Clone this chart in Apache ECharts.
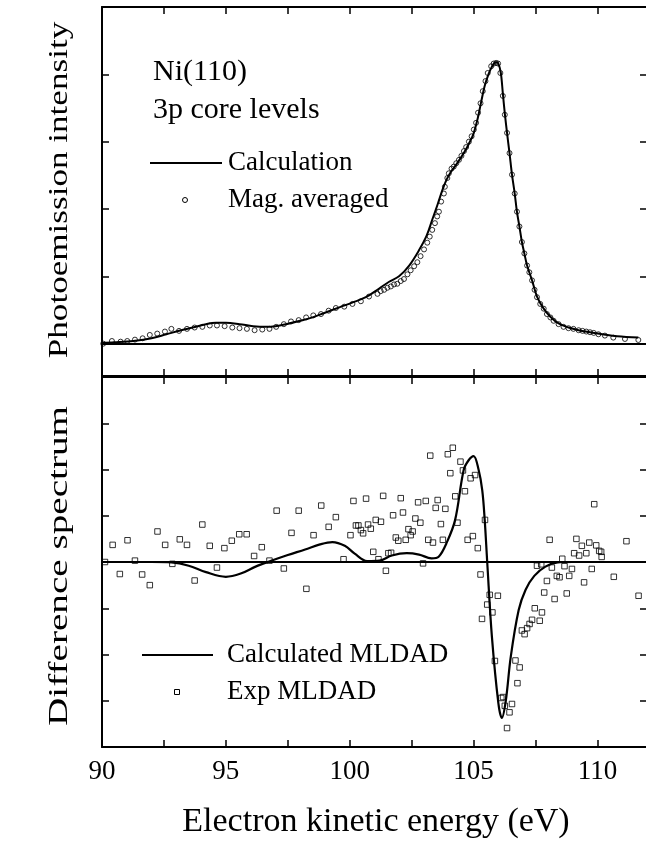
<!DOCTYPE html>
<html>
<head>
<meta charset="utf-8">
<title>Ni(110) 3p core levels</title>
<script src="https://cdn.jsdelivr.net/npm/echarts@6/dist/echarts.min.js"></script>
<style>
  html, body { margin: 0; padding: 0; background: #fff; }
  #chart { width: 646px; height: 844px; }
</style>
</head>
<body>
<div id="chart"></div>
<script>
// top panel: calculation (line)
var calcE = [90.0, 90.5, 91.26, 92.0, 92.6, 93.2, 93.66, 94.2, 94.6, 95.0, 95.55, 96.1, 96.63, 97.0, 97.43, 98.0,
  98.5, 99.0, 99.58, 100.1, 100.65, 101.19, 101.59, 101.99, 102.4, 102.8, 103.1, 103.33, 103.55, 103.74, 103.9,
  104.1, 104.3, 104.5, 104.7, 104.85, 105.0, 105.17, 105.3, 105.45, 105.6, 105.75, 105.9, 106.0, 106.1, 106.18,
  106.26, 106.35, 106.45, 106.55, 106.66, 106.75, 106.85, 106.95, 107.05, 107.16, 107.36, 107.56, 107.83, 108.1,
  108.43, 108.83, 109.24, 109.7, 110.2, 110.8, 111.65];
var calcI = [0.01, 0.02, 0.04, 0.08, 0.14, 0.2, 0.24, 0.29, 0.31, 0.31, 0.29, 0.26, 0.25, 0.26, 0.29, 0.34,
  0.39, 0.46, 0.54, 0.61, 0.69, 0.82, 0.92, 1.0, 1.16, 1.39, 1.6, 1.84, 2.07, 2.28, 2.43,
  2.56, 2.66, 2.77, 2.89, 3.0, 3.12, 3.35, 3.58, 3.83, 4.0, 4.12, 4.18, 4.16, 4.02, 3.72,
  3.42, 3.13, 2.83, 2.51, 2.23, 1.96, 1.74, 1.51, 1.34, 1.16, 0.94, 0.7, 0.52, 0.4,
  0.3, 0.24, 0.2, 0.17, 0.14, 0.11, 0.09];

// top panel: magnetisation averaged (circles)
var magE = [90.05, 90.4, 90.75, 91.02, 91.33, 91.64, 91.93, 92.23, 92.54, 92.8, 93.11, 93.43, 93.74, 94.05, 94.35,
  94.64, 94.95, 95.26, 95.55, 95.85, 96.16, 96.47, 96.76, 97.03, 97.34, 97.63, 97.94, 98.24, 98.53, 98.84, 99.15,
  99.44, 99.78, 100.11, 100.45, 100.78, 101.12, 101.25, 101.39, 101.52, 101.66, 101.79, 101.92, 102.06, 102.19,
  102.33, 102.46, 102.6, 102.73, 102.86, 103.0, 103.13, 103.23, 103.33, 103.44, 103.53, 103.6, 103.69, 103.8,
  103.84, 103.94, 104.0, 104.11, 104.2, 104.3, 104.41, 104.51, 104.61, 104.7, 104.81, 104.92, 105.01, 105.1,
  105.18, 105.28, 105.37, 105.48, 105.57, 105.71, 105.81, 105.91, 105.99, 106.08, 106.18, 106.26, 106.35, 106.45,
  106.55, 106.66, 106.75, 106.85, 106.95, 107.05, 107.16, 107.25, 107.36, 107.46, 107.56, 107.69, 107.83, 107.96,
  108.1, 108.23, 108.43, 108.63, 108.83, 109.03, 109.24, 109.4, 109.55, 109.7, 109.85, 110.04, 110.3, 110.64,
  111.11, 111.65];
var magI = [0.0, 0.04, 0.03, 0.04, 0.06, 0.08, 0.13, 0.15, 0.18, 0.22, 0.19, 0.22, 0.24, 0.25, 0.27,
  0.27, 0.26, 0.24, 0.23, 0.22, 0.2, 0.21, 0.22, 0.25, 0.29, 0.33, 0.35, 0.39, 0.42, 0.44, 0.49,
  0.53, 0.55, 0.59, 0.63, 0.7, 0.74, 0.78, 0.8, 0.83, 0.85, 0.88, 0.89, 0.93, 0.96,
  1.03, 1.09, 1.15, 1.21, 1.3, 1.4, 1.5, 1.59, 1.69, 1.79, 1.89, 1.96, 2.11, 2.23,
  2.33, 2.46, 2.53, 2.6, 2.63, 2.68, 2.73, 2.79, 2.86, 2.92, 3.0, 3.08, 3.18, 3.28,
  3.43, 3.57, 3.75, 3.9, 4.02, 4.12, 4.16, 4.17, 4.16, 4.02, 3.68, 3.4, 3.13, 2.83,
  2.51, 2.23, 1.96, 1.74, 1.51, 1.34, 1.16, 1.06, 0.94, 0.8, 0.69, 0.59, 0.52, 0.44,
  0.39, 0.34, 0.29, 0.25, 0.23, 0.22, 0.2, 0.19, 0.18, 0.17, 0.16, 0.14, 0.12, 0.09,
  0.07, 0.055];

// bottom panel: calculated MLDAD (line)
var mldE = [90.0, 91.0, 92.0, 92.8, 93.5, 94.2, 95.0, 95.6, 96.2, 96.8, 97.5, 98.2, 98.8, 99.3, 99.8, 100.2,
  100.7, 101.2, 101.7, 102.3, 102.8, 103.3, 103.6, 103.9, 104.25, 104.6, 104.8, 105.0, 105.2, 105.35, 105.45,
  105.55, 105.74, 106.0, 106.14, 106.3, 106.5, 106.82, 107.1, 107.45, 107.9, 108.4, 109.0, 110.0, 111.5];
var mldV = [0, 0, 0, -0.01, -0.08, -0.22, -0.32, -0.25, -0.1, 0.02, 0.15, 0.27, 0.38, 0.43, 0.35, 0.18,
  0.02, 0.03, 0.14, 0.19, 0.16, 0.08, 0.12, 0.4, 0.9, 1.99, 2.2, 2.29, 2.0, 1.55, 0.9,
  0, -1.62, -3.05, -3.37, -3.0, -2.05, -1.04, -0.6, -0.3, -0.1, -0.01, 0, 0, 0];

// bottom panel: experimental MLDAD (squares)
var expE = [90.12, 90.43, 90.72, 91.03, 91.33, 91.62, 91.93, 92.24, 92.55, 92.84, 93.14, 93.43, 93.74, 94.05,
  94.35, 94.64, 94.94, 95.24, 95.54, 95.84, 96.14, 96.45, 96.76, 97.05, 97.34, 97.65, 97.94, 98.25, 98.54, 98.85,
  99.15, 99.44, 99.75, 100.03, 100.15, 100.25, 100.35, 100.45, 100.54, 100.66, 100.74, 100.85, 100.95, 101.05,
  101.16, 101.26, 101.35, 101.46, 101.56, 101.67, 101.75, 101.86, 101.96, 102.06, 102.15, 102.26, 102.37, 102.46,
  102.54, 102.65, 102.76, 102.85, 102.96, 103.07, 103.17, 103.25, 103.36, 103.47, 103.55, 103.68, 103.76, 103.86,
  103.96, 104.06, 104.16, 104.26, 104.35, 104.47, 104.57, 104.65, 104.76, 104.88, 104.97, 105.06, 105.17, 105.28,
  105.34, 105.46, 105.55, 105.65, 105.76, 105.86, 105.98, 106.12, 106.19, 106.26, 106.35, 106.45, 106.55, 106.69,
  106.77, 106.86, 106.95, 107.06, 107.16, 107.26, 107.36, 107.47, 107.56, 107.67, 107.73, 107.76, 107.85, 107.96,
  108.07, 108.16, 108.27, 108.36, 108.47, 108.58, 108.67, 108.76, 108.86, 108.97, 109.06, 109.15, 109.26, 109.37,
  109.46, 109.55, 109.67, 109.77, 109.87, 109.95, 110.07, 110.15, 110.17, 110.66, 111.17, 111.66];
var expV = [0.0, 0.37, -0.26, 0.47, 0.03, -0.27, -0.5, 0.66, 0.37, -0.04, 0.49, 0.37, -0.4, 0.81,
  0.35, -0.12, 0.3, 0.46, 0.6, 0.6, 0.13, 0.32, 0.03, 1.11, -0.14, 0.63, 1.11, -0.58, 0.58, 1.22,
  0.76, 0.97, 0.06, 0.58, 1.32, 0.79, 0.79, 0.69, 0.62, 1.37, 0.81, 0.72, 0.22, 0.91,
  0.06, 0.87, 1.43, -0.19, 0.19, 0.2, 1.01, 0.53, 0.46, 1.38, 1.07, 0.48, 0.71, 0.58,
  0.66, 0.94, 1.29, 0.85, -0.03, 1.32, 0.48, 2.3, 0.42, 1.17, 1.34, 0.82, 0.48, 1.15,
  2.33, 1.92, 2.47, 1.42, 0.85, 2.17, 1.98, 1.53, 0.48, 1.81, 0.56, 1.88, 0.3, -0.27,
  -1.23, 0.91, -0.92, -0.71, -1.09, -2.14, -0.73, -2.94, -2.92, -3.11, -3.59, -3.25, -3.07, -2.13,
  -2.62, -2.28, -1.48, -1.56, -1.43, -1.34, -1.25, -1.0, -0.08, -1.27, -0.05, -1.09, -0.66, -0.41,
  0.48, -0.12, -0.8, -0.3, -0.33, 0.07, -0.09, -0.68, -0.3, -0.15, 0.19, 0.5, 0.14, 0.35,
  -0.44, 0.19, 0.42, -0.15, 1.25, 0.36, 0.24, 0.22, 0.11, -0.32, 0.45, -0.73];

var xTicks = [90, 95, 100, 105, 110];
var topYTicks = [1, 2, 3, 4];

function zip(a, b) {
  var out = [];
  for (var i = 0; i < a.length; i++) out.push([a[i], b[i]]);
  return out;
}

var serif = 'Liberation Serif';
var black = '#000';

function xAxisCfg(grid, pos, labels) {
  return {
    type: 'value', gridIndex: grid, position: pos,
    min: 90, max: 112, interval: 2.5,
    axisLine: { show: true, onZero: false, lineStyle: { color: black, width: 2 } },
    axisTick: { show: true, inside: true, length: 7, lineStyle: { color: black, width: 1.5 } },
    axisLabel: {
      show: labels, margin: 11, color: black, fontFamily: serif, fontSize: 27,
      formatter: function (v) { return xTicks.indexOf(v) >= 0 ? String(v) : ''; }
    },
    splitLine: { show: false }
  };
}

function yAxisCfg(grid, pos, min, max, ticks) {
  var ax = {
    type: 'value', gridIndex: grid, position: pos, min: min, max: max,
    axisLine: { show: true, onZero: false, lineStyle: { color: black, width: 2 } },
    axisTick: { show: true, inside: true, length: 7, lineStyle: { color: black, width: 1.5 } },
    axisLabel: { show: false },
    splitLine: { show: false }
  };
  if (ticks) {
    ax.axisTick.customValues = ticks;
  } else {
    ax.interval = 1;
  }
  return ax;
}

var zeroLine = {
  silent: true, symbol: 'none', animation: false,
  label: { show: false },
  lineStyle: { color: black, width: 2, type: 'solid' },
  data: [{ yAxis: 0 }]
};

var chart = echarts.init(document.getElementById('chart'));
chart.setOption({
  animation: false,
  backgroundColor: '#fff',
  grid: [
    { left: 102, top: 7, width: 545, height: 369, outerBoundsMode: 'none', containLabel: false },
    { left: 102, top: 377, width: 545, height: 370, outerBoundsMode: 'none', containLabel: false }
  ],
  xAxis: [
    xAxisCfg(0, 'bottom', false),
    xAxisCfg(0, 'top', false),
    xAxisCfg(1, 'bottom', true),
    xAxisCfg(1, 'top', false)
  ],
  yAxis: [
    yAxisCfg(0, 'left', -0.48, 5, topYTicks),
    yAxisCfg(0, 'right', -0.48, 5, topYTicks),
    yAxisCfg(1, 'left', -4, 4),
    yAxisCfg(1, 'right', -4, 4)
  ],
  series: [
    {
      name: 'Calculation', type: 'line', xAxisIndex: 0, yAxisIndex: 0,
      data: zip(calcE, calcI), smooth: 0.35, showSymbol: false,
      lineStyle: { color: black, width: 2 }, markLine: zeroLine, z: 3
    },
    {
      name: 'Mag. averaged', type: 'scatter', xAxisIndex: 0, yAxisIndex: 0,
      data: zip(magE, magI), symbol: 'circle', symbolSize: 5,
      itemStyle: { color: 'rgba(255,255,255,0)', borderColor: black, borderWidth: 1 }, z: 4
    },
    {
      name: 'Calculated MLDAD', type: 'line', xAxisIndex: 2, yAxisIndex: 2,
      data: zip(mldE, mldV), smooth: 0.35, showSymbol: false,
      lineStyle: { color: black, width: 2.2 }, markLine: zeroLine, z: 3
    },
    {
      name: 'Exp MLDAD', type: 'scatter', xAxisIndex: 2, yAxisIndex: 2,
      data: zip(expE, expV), symbol: 'rect', symbolSize: 5.5,
      itemStyle: { color: 'rgba(255,255,255,0)', borderColor: black, borderWidth: 1 }, z: 4
    }
  ],
  graphic: [
    { type: 'text', x: 153, y: 72, style: { text: 'Ni(110)', font: '30px "Liberation Serif"', fill: black, textVerticalAlign: 'middle' } },
    { type: 'text', x: 153, y: 110, style: { text: '3p core levels', font: '30px "Liberation Serif"', fill: black, textVerticalAlign: 'middle' } },
    { type: 'line', shape: { x1: 150, y1: 163, x2: 222, y2: 163 }, style: { stroke: black, lineWidth: 2 } },
    { type: 'text', x: 228, y: 163, style: { text: 'Calculation', font: '27px "Liberation Serif"', fill: black, textVerticalAlign: 'middle' } },
    { type: 'circle', shape: { cx: 185, cy: 200, r: 2.5 }, style: { fill: 'none', stroke: black, lineWidth: 1 } },
    { type: 'text', x: 228, y: 200, style: { text: 'Mag. averaged', font: '27px "Liberation Serif"', fill: black, textVerticalAlign: 'middle' } },
    { type: 'line', shape: { x1: 142, y1: 655, x2: 213, y2: 655 }, style: { stroke: black, lineWidth: 2 } },
    { type: 'text', x: 227, y: 655, style: { text: 'Calculated MLDAD', font: '27px "Liberation Serif"', fill: black, textVerticalAlign: 'middle' } },
    { type: 'rect', shape: { x: 174.5, y: 689.5, width: 5, height: 5 }, style: { fill: 'none', stroke: black, lineWidth: 1 } },
    { type: 'text', x: 227, y: 692, style: { text: 'Exp MLDAD', font: '27px "Liberation Serif"', fill: black, textVerticalAlign: 'middle' } },
    { type: 'text', x: 376, y: 822, style: { text: 'Electron kinetic energy (eV)', font: '34px "Liberation Serif"', fill: black, textAlign: 'center', textVerticalAlign: 'middle' } },
    { type: 'text', x: 60, y: 190, rotation: Math.PI / 2, scaleX: 1.3, style: { text: 'Photoemission intensity', font: '27px "Liberation Serif"', fill: black, textAlign: 'center', textVerticalAlign: 'middle' } },
    { type: 'text', x: 60, y: 566, rotation: Math.PI / 2, scaleX: 1.45, style: { text: 'Difference spectrum', font: '27px "Liberation Serif"', fill: black, textAlign: 'center', textVerticalAlign: 'middle' } }
  ]
});
window.addEventListener('resize', chart.resize);
</script>
</body>
</html>
